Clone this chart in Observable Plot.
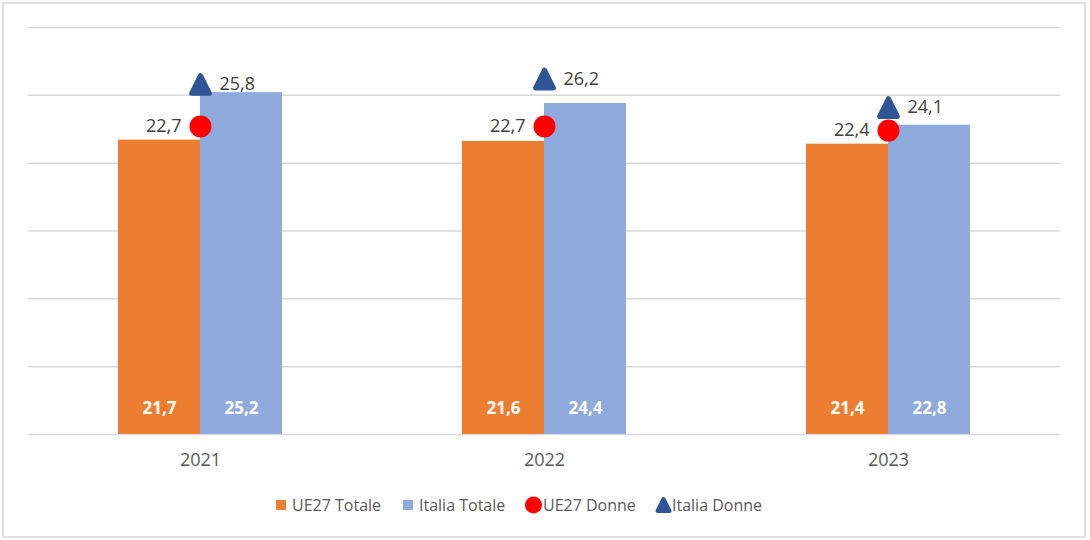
<!DOCTYPE html>
<html>
<head>
<meta charset="utf-8">
<script src="https://cdn.jsdelivr.net/npm/d3@7"></script>
<script src="https://cdn.jsdelivr.net/npm/@observablehq/plot@0.6"></script>
<style>
  html, body { margin: 0; padding: 0; background: #fff; }
  #wrap { position: relative; width: 1090px; height: 540px; font-family: "Open Sans", sans-serif; }
  #border { position: absolute; left: 2px; top: 2px; width: 1080px; height: 532px; border: 2px solid #e0e0e0; pointer-events: none; }
  #chart { position: absolute; left: 0; top: 0; }
  #legend { position: absolute; left: 0; top: 493px; width: 1090px; height: 24px; }
  .item { position: absolute; top: 0; height: 24px; display: flex; align-items: center; font-size: 16px; color: #595959; white-space: nowrap; }
  .item svg { display: block; }
</style>
</head>
<body>
<div id="wrap">
  <div id="chart"></div>
  <div id="legend"></div>
  <div id="border"></div>
</div>
<script>
const years = ["2021", "2022", "2023"];
const barSeries = ["UE27 Totale", "Italia Totale"];
const markerSeries = ["UE27 Donne", "Italia Donne"];
const ue27Totale = [21.7, 21.6, 21.4];
const italiaTotale = [25.2, 24.4, 22.8];
const ue27Donne = [22.7, 22.7, 22.4];
const italiaDonne = [25.8, 26.2, 24.1];
const gridTicks = [0, 5, 10, 15, 20, 25, 30];

const colors = {
  "UE27 Totale": "#ED7D31",
  "Italia Totale": "#8FAADC",
  "UE27 Donne": "#FF0000",
  "Italia Donne": "#2F5597"
};

const fmt = v => v.toFixed(1).replace(".", ",");

const bars = years.flatMap((y, i) => [
  {year: y, serie: barSeries[0], value: ue27Totale[i]},
  {year: y, serie: barSeries[1], value: italiaTotale[i]}
]);
const ueDonne = years.map((y, i) => ({year: y, serie: markerSeries[0], value: ue27Donne[i]}));
const itDonne = years.map((y, i) => ({year: y, serie: markerSeries[1], value: italiaDonne[i]}));

const roundedTriangle = {
  draw(ctx, size) {
    const h = Math.sqrt(size) / 2;
    ctx.moveTo(0, -h);
    ctx.lineTo(h, h);
    ctx.lineTo(-h, h);
    ctx.closePath();
  }
};

const chart = Plot.plot({
  width: 1090,
  height: 480,
  marginTop: 27,
  marginBottom: 46,
  marginLeft: 27,
  marginRight: 29,
  style: {fontFamily: "'Open Sans', sans-serif", background: "transparent"},
  fx: {domain: years, padding: 0, label: null},
  x: {domain: barSeries, paddingInner: 0, paddingOuter: 1.089, axis: null},
  y: {domain: [0, 30], axis: null},
  marks: [
    Plot.ruleY(gridTicks, {stroke: "#d9d9d9", strokeWidth: 1.5}),
    Plot.barY(bars, {fx: "year", x: "serie", y: "value", fill: d => colors[d.serie]}),
    Plot.text(bars, {fx: "year", x: "serie", text: d => fmt(d.value), frameAnchor: "bottom", dy: -21,
      fill: "#ffffff", fontWeight: "bold", fontSize: 17}),
    Plot.dot(ueDonne, {fx: "year", y: "value", r: 11, fill: colors["UE27 Donne"], stroke: "none", symbol: "circle"}),
    Plot.dot(itDonne, {fx: "year", y: "value", r: 10, fill: colors["Italia Donne"], stroke: colors["Italia Donne"],
      strokeWidth: 5, strokeLinejoin: "round", symbol: roundedTriangle}),
    Plot.text(ueDonne, {fx: "year", y: "value", text: d => fmt(d.value), textAnchor: "end", dx: -19,
      fill: "#404040", fontSize: 18}),
    Plot.text(itDonne, {fx: "year", y: "value", text: d => fmt(d.value), textAnchor: "start", dx: 19,
      fill: "#404040", fontSize: 18}),
    Plot.axisFx({anchor: "bottom", tickSize: 0, tickPadding: 19, label: null, fontSize: 18, fill: "#595959"})
  ]
});
document.getElementById("chart").appendChild(chart);

// Legend
const legendItems = [
  {name: barSeries[0], kind: "square", left: 276},
  {name: barSeries[1], kind: "square", left: 403},
  {name: markerSeries[0], kind: "circle", left: 525},
  {name: markerSeries[1], kind: "triangle", left: 655}
];
const legend = d3.select("#legend");
legendItems.forEach(it => {
  const div = legend.append("div").attr("class", "item").style("left", it.left + "px");
  if (it.kind === "square") {
    const s = div.append("svg").attr("width", 16).attr("height", 24);
    s.append("rect").attr("x", 0).attr("y", 7).attr("width", 10).attr("height", 10).attr("fill", colors[it.name]);
  } else if (it.kind === "circle") {
    const s = div.append("svg").attr("width", 18).attr("height", 24);
    s.append("circle").attr("cx", 8.5).attr("cy", 12).attr("r", 8.5).attr("fill", colors[it.name]);
  } else {
    const s = div.append("svg").attr("width", 17).attr("height", 24);
    s.append("path").attr("d", "M8.5,6 L14.5,18 L2.5,18 Z").attr("fill", colors[it.name])
      .attr("stroke", colors[it.name]).attr("stroke-width", 4).attr("stroke-linejoin", "round");
  }
  div.append("span").text(it.name);
});
</script>
</body>
</html>
